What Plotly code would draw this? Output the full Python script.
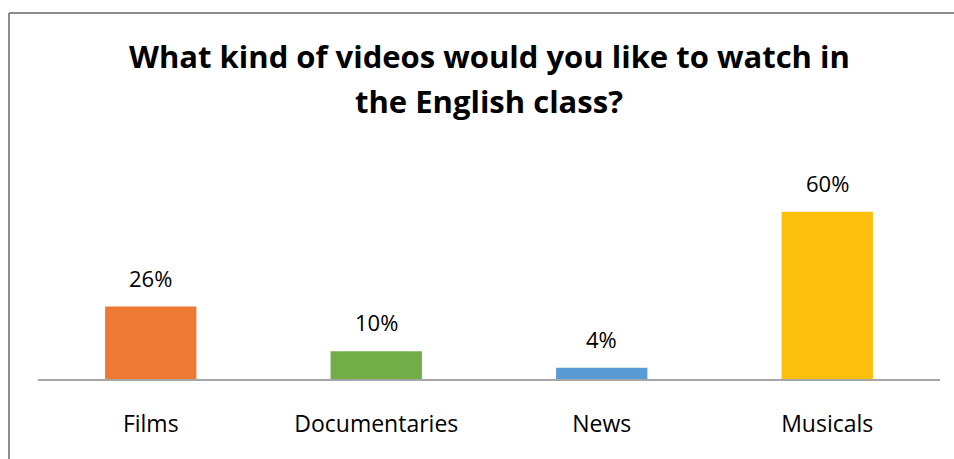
import plotly.graph_objects as go

# Survey results
categories = ["Films", "Documentaries", "News", "Musicals"]
percentages = [26, 10, 4, 60]
bar_colors = ["#EC7A35", "#71AE48", "#5B9BD5", "#FCC00C"]

title_lines = ["What kind of videos would you like to watch in", "the English class?"]

W, H = 954, 459
ML, MR, MT, MB = 38, 14, 156, 80
plot_w = W - ML - MR
plot_h = H - MT - MB


def px_to_paper_x(px):
    return (px - ML) / plot_w


def px_to_paper_y(py):
    return (H - MB - py) / plot_h


fig = go.Figure(
    go.Bar(
        x=categories,
        y=percentages,
        marker=dict(color=bar_colors, line=dict(width=0)),
        hoverinfo="skip",
    )
)

# value labels above each bar
for cat, val in zip(categories, percentages):
    fig.add_annotation(
        x=cat, y=val, text=f"{val}%", showarrow=False,
        yanchor="bottom", yshift=12,
        font=dict(family="Open Sans", size=22, color="#000000"),
    )

# two-line chart heading
for line, py in zip(title_lines, [56, 101]):
    fig.add_annotation(
        xref="paper", yref="paper",
        x=px_to_paper_x(489), y=px_to_paper_y(py),
        xanchor="center", yanchor="middle",
        text=f"<b>{line}</b>", showarrow=False,
        font=dict(family="Open Sans", size=31, color="#000000"),
    )

# chart frame (left and top edges)
frame = dict(color="#8C8C8C", width=2)
fig.add_shape(type="line", xref="paper", yref="paper",
              x0=px_to_paper_x(9), x1=px_to_paper_x(9),
              y0=px_to_paper_y(13), y1=px_to_paper_y(H + 5), line=frame)
fig.add_shape(type="line", xref="paper", yref="paper",
              x0=px_to_paper_x(9), x1=px_to_paper_x(W + 5),
              y0=px_to_paper_y(13), y1=px_to_paper_y(13), line=frame)

fig.update_layout(
    width=W, height=H,
    margin=dict(l=ML, r=MR, t=MT, b=MB),
    paper_bgcolor="#FFFFFF",
    plot_bgcolor="#FFFFFF",
    bargap=0.595,
    showlegend=False,
    xaxis=dict(
        showline=True, linecolor="#A6A6A6", linewidth=1.5,
        showgrid=False, zeroline=False, ticks="",
        ticklabelstandoff=24,
        tickfont=dict(family="Open Sans", size=23, color="#000000"),
    ),
    yaxis=dict(
        range=[0, 80], visible=False, showgrid=False, zeroline=False,
    ),
)

fig.write_html("out.html")
